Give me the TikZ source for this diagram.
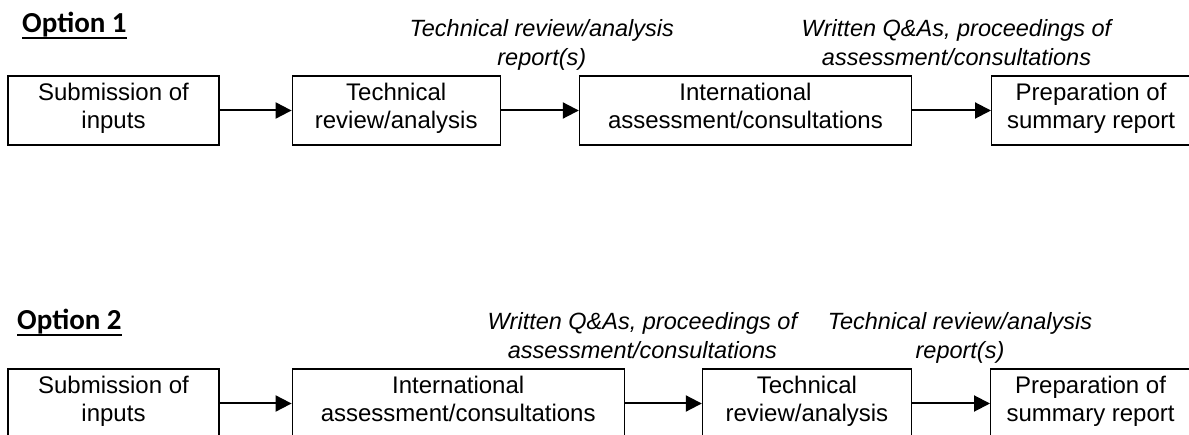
\documentclass[tikz,border=0pt]{standalone}
\usepackage{fontspec}
\setmainfont{Liberation Sans}
\newfontfamily\headfont{Carlito}
\usetikzlibrary{arrows.meta,positioning}
\newcommand\optul[1]{\setbox0\hbox{#1}\rlap{\rule[-6pt]{\wd0}{2pt}}\box0}

\begin{document}
\begin{tikzpicture}[
    x=1pt,y=1pt,
    font=\fontsize{24}{28}\selectfont,
    node distance=75pt,
    stage/.style={draw=black,line width=1.2pt,minimum height=69pt,align=center,inner sep=0pt,
      execute at begin node=\strut,execute at end node=\strut},
    note/.style={font=\fontsize{23.5}{29}\selectfont\itshape,align=center,inner sep=0pt,
      execute at end node=\strut},
    heading/.style={font=\headfont\bfseries\fontsize{29}{32}\selectfont,anchor=base west,inner sep=0pt},
    arrow/.style={-{Triangle[length=16pt,width=16pt]},line width=2pt,draw=black}
  ]
    \clip (0,0) rectangle (1189,-435);
    % Option 1
    \node[heading] (opt1) at (22,-33) {\optul{Option 1}};
    \node[stage,minimum width=211pt] (sub1) at (113.5,-110.5) {Submission of\\inputs};
    \node[stage,minimum width=208pt,right=72pt of sub1] (tech1) {Technical\\review/analysis};
    \node[stage,minimum width=332pt,right=78pt of tech1] (intl1) {International\\assessment/consultations};
    \node[stage,minimum width=199pt,right=79pt of intl1] (prep1) {Preparation of\\summary report};
    \draw[arrow] (sub1) -- (tech1);
    \draw[arrow] (tech1) -- node[note,above=35pt,xshift=2pt] {Technical review/analysis\\report(s)} (intl1);
    \draw[arrow] (intl1) -- node[note,above=35pt,xshift=5pt] {Written Q\&As, proceedings of\\assessment/consultations} (prep1);
    % Option 2
    \node[heading] (opt2) at (17,-330) {\optul{Option 2}};
    \node[stage,minimum width=211pt] (sub2) at (113.5,-403.5) {Submission of\\inputs};
    \node[stage,minimum width=332pt,right=72pt of sub2] (intl2) {International\\assessment/consultations};
    \node[stage,minimum width=209pt,right=77pt of intl2] (tech2) {Technical\\review/analysis};
    \node[stage,minimum width=200pt,right=78pt of tech2] (prep2) {Preparation of\\summary report};
    \draw[arrow] (sub2) -- (intl2);
    \draw[arrow] (intl2) -- node[note,above=35pt,xshift=-21pt] {Written Q\&As, proceedings of\\assessment/consultations} (tech2);
    \draw[arrow] (tech2) -- node[note,above=35pt,xshift=9pt] {Technical review/analysis\\report(s)} (prep2);
  \end{tikzpicture}
\end{document}
